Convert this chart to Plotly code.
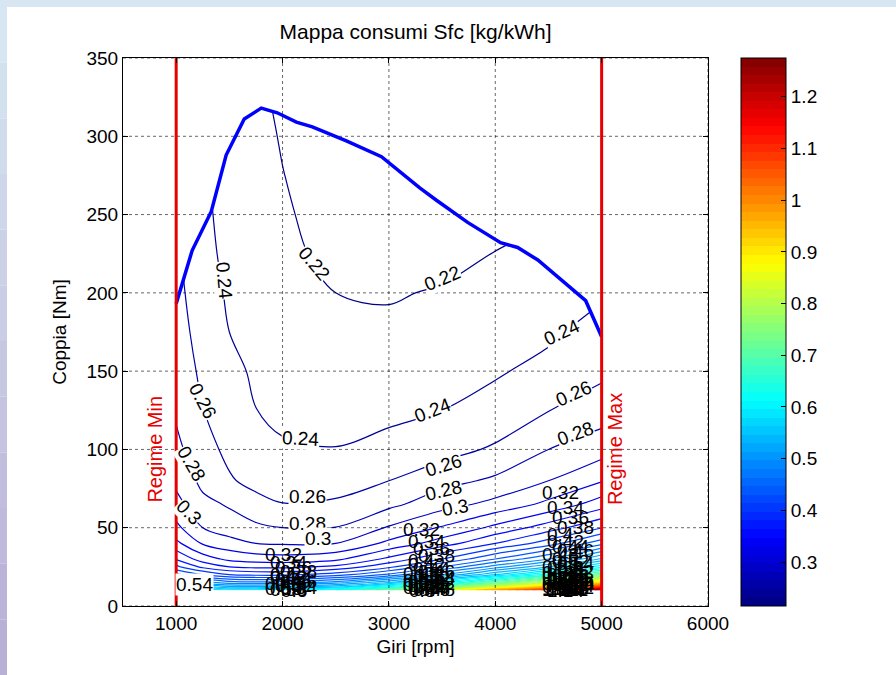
import plotly.graph_objects as go

# ---------------- data ----------------
rpm = [1000, 1250, 1500, 1750, 2000, 2500, 3000, 3500, 4000, 4500, 5000]
torque = [10, 12, 15, 20, 25, 30, 40, 50, 65, 80, 100, 125, 150, 175, 200, 225, 250, 275, 300, 325, 350]

# Sfc [kg/kWh] per rpm column, listed bottom (10 Nm) to top (350 Nm)
sfc_1000 = [0.62, 0.57, 0.51, 0.445, 0.405, 0.378, 0.345, 0.325, 0.307, 0.295, 0.285, 0.277, 0.272, 0.268, 0.265, 0.263, 0.261, 0.260, 0.259, 0.258, 0.257]
sfc_1250 = [0.60, 0.55, 0.49, 0.42, 0.375, 0.35, 0.318, 0.300, 0.285, 0.275, 0.267, 0.2605, 0.256, 0.2525, 0.250, 0.247, 0.245, 0.243, 0.242, 0.241, 0.240]
sfc_1500 = [0.59, 0.53, 0.47, 0.40, 0.36, 0.335, 0.308, 0.289, 0.278, 0.262, 0.2555, 0.249, 0.2435, 0.240, 0.237, 0.234, 0.232, 0.231, 0.230, 0.230, 0.230]
sfc_1750 = [0.59, 0.53, 0.465, 0.395, 0.355, 0.33, 0.300, 0.284, 0.266, 0.2545, 0.245, 0.2402, 0.238, 0.236, 0.2335, 0.231, 0.2285, 0.2275, 0.226, 0.224, 0.223]
sfc_2000 = [0.60, 0.535, 0.47, 0.395, 0.355, 0.328, 0.298, 0.280, 0.2605, 0.2515, 0.2425, 0.235, 0.231, 0.2285, 0.2265, 0.2245, 0.2225, 0.2205, 0.2185, 0.2165, 0.215]
sfc_2500 = [0.64, 0.56, 0.49, 0.41, 0.365, 0.335, 0.300, 0.2805, 0.2625, 0.2525, 0.2405, 0.2335, 0.228, 0.2235, 0.220, 0.215, 0.212, 0.209, 0.207, 0.206, 0.205]
sfc_3000 = [0.72, 0.63, 0.54, 0.445, 0.395, 0.365, 0.325, 0.302, 0.275, 0.260, 0.245, 0.236, 0.229, 0.2235, 0.2185, 0.211, 0.207, 0.206, 0.207, 0.209, 0.212]
sfc_3500 = [0.83, 0.72, 0.61, 0.50, 0.44, 0.40, 0.35, 0.322, 0.292, 0.2735, 0.252, 0.240, 0.2335, 0.227, 0.2215, 0.2145, 0.209, 0.207, 0.208, 0.211, 0.215]
sfc_4000 = [0.97, 0.83, 0.70, 0.56, 0.49, 0.44, 0.38, 0.345, 0.306, 0.2835, 0.263, 0.245, 0.2385, 0.2325, 0.2265, 0.2205, 0.213, 0.210, 0.211, 0.215, 0.220]
sfc_4500 = [1.10, 0.95, 0.80, 0.63, 0.54, 0.48, 0.41, 0.37, 0.325, 0.300, 0.280, 0.2595, 0.244, 0.2375, 0.231, 0.2245, 0.219, 0.218, 0.220, 0.224, 0.228]
sfc_5000 = [1.26, 1.08, 0.90, 0.722, 0.614, 0.543, 0.453, 0.399, 0.350, 0.3185, 0.2916, 0.270, 0.2557, 0.2455, 0.238, 0.234, 0.232, 0.232, 0.233, 0.235, 0.238]

# full-load torque curve
full_rpm = [1000, 1150, 1330, 1470, 1640, 1800, 1950, 2130, 2280, 2600, 2930, 3290, 3450, 3740, 4050, 4210, 4400, 4610, 4850, 5000]
full_torque = [193, 227, 252, 288, 311, 318, 315, 309, 306, 297, 287, 267, 259, 245, 232, 229, 221, 209, 195, 172]

regime_min = 1000
regime_max = 5000

# contour labels (inline labels of the upper lines)
label_text = ["0.22", "0.22", "0.24", "0.24", "0.24", "0.24", "0.26", "0.26", "0.26", "0.26",
              "0.28", "0.28", "0.28", "0.28", "0.3", "0.3", "0.3", "0.54"]
label_rpm = [2300, 3500, 1453, 2170, 3406, 4620, 1245, 2236, 3509, 4736,
             1142, 2236, 3509, 4755, 1123, 2330, 3623, 1170]
label_torque = [219, 209, 208, 107, 125, 175, 131, 70, 90, 136,
                91, 53, 74, 110, 60, 43, 63, 14]
label_angle = [50, -23, 85, 3, -21, -25, 62, 0, -17, -24,
               60, 0, -13, -20, 45, 0, -10, 0]

# rpm positions of the piled-up label clusters near low load
cluster_rpm = [2080, 3380, 4680]

x_ticks = [1000, 2000, 3000, 4000, 5000, 6000]
y_ticks = [0, 50, 100, 150, 200, 250, 300, 350]
cb_ticks = [0.3, 0.4, 0.5, 0.6, 0.7, 0.8, 0.9, 1.0, 1.1, 1.2]
cb_labels = ["0.3", "0.4", "0.5", "0.6", "0.7", "0.8", "0.9", "1", "1.1", "1.2"]

x_range = [500, 6000]
y_range = [0, 350]
c_range = [0.215, 1.275]
level_start, level_end, level_step = 0.22, 1.26, 0.02

# ---------------- figure ----------------
columns = [sfc_1000, sfc_1250, sfc_1500, sfc_1750, sfc_2000, sfc_2500,
           sfc_3000, sfc_3500, sfc_4000, sfc_4500, sfc_5000]
z = [list(row) for row in zip(*columns)]


def _clip(v):
    return max(0.0, min(1.0, v))


# MATLAB-like 64-step jet colormap
N_STEPS = 64
jet = []
for i in range(N_STEPS):
    u = (i + 0.5) / N_STEPS
    r = _clip(min(4 * u - 1.5, -4 * u + 4.5))
    g = _clip(min(4 * u - 0.5, -4 * u + 3.5))
    b = _clip(min(4 * u + 0.5, -4 * u + 2.5))
    c = f"rgb({int(round(r * 255))},{int(round(g * 255))},{int(round(b * 255))})"
    jet.append([i / N_STEPS, c])
    jet.append([(i + 1) / N_STEPS, c])

FONT = "Liberation Sans, Arial, Helvetica, sans-serif"
FS = 19

fig = go.Figure()

fig.add_trace(go.Contour(
    x=rpm, y=torque, z=z,
    colorscale=jet, showscale=False,
    contours=dict(start=level_start, end=level_end, size=level_step, coloring="lines",
                  showlabels=False),
    line=dict(width=1.2),
    hoverinfo="skip",
))

# white mask above the full-load curve
fig.add_trace(go.Scatter(
    x=full_rpm + [regime_max, regime_min],
    y=full_torque + [y_range[1], y_range[1]],
    fill="toself", fillcolor="white", mode="lines", line=dict(width=0),
    hoverinfo="skip", showlegend=False,
))

# dotted grid
gx, gy = [], []
for v in x_ticks:
    gx += [v, v, None]
    gy += [y_range[0], y_range[1], None]
for v in y_ticks:
    gx += [x_range[0], x_range[1], None]
    gy += [v, v, None]
fig.add_trace(go.Scatter(x=gx, y=gy, mode="lines",
                         line=dict(color="rgba(0,0,0,0.6)", width=1, dash="dot"),
                         hoverinfo="skip", showlegend=False))

# full-load curve
fig.add_trace(go.Scatter(x=full_rpm, y=full_torque, mode="lines",
                         line=dict(color="rgb(0,0,255)", width=3.5),
                         hoverinfo="skip", showlegend=False))

# regime lines
fig.add_trace(go.Scatter(
    x=[regime_min, regime_min, None, regime_max, regime_max],
    y=[y_range[0], y_range[1], None, y_range[0], y_range[1]],
    mode="lines", line=dict(color="rgb(230,0,0)", width=3),
    hoverinfo="skip", showlegend=False))

# colorbar carrier
fig.add_trace(go.Scatter(
    x=[None], y=[None], mode="markers", showlegend=False, hoverinfo="skip",
    marker=dict(color=[c_range[0]], cmin=c_range[0], cmax=c_range[1], colorscale=jet,
                showscale=True,
                colorbar=dict(x=(741 - 123) / 585, xanchor="left", xpad=0,
                              y=0.5, yanchor="middle", len=1, ypad=0,
                              thickness=45, outlinewidth=1, outlinecolor="black",
                              tickvals=cb_ticks, ticktext=cb_labels,
                              ticks="inside", ticklen=5, tickcolor="black",
                              tickfont=dict(size=FS, color="black", family=FONT))),
))

# inline contour labels (white background breaks the line like clabel)
for t, xr, yt, a in zip(label_text, label_rpm, label_torque, label_angle):
    fig.add_annotation(x=xr, y=yt, text=t, textangle=a, showarrow=False,
                       bgcolor="white", borderpad=0,
                       font=dict(size=FS, color="black", family=FONT))


# piled-up labels of the dense low-load lines
def column_at(r):
    for j in range(len(rpm) - 1):
        if rpm[j] <= r <= rpm[j + 1]:
            w = (r - rpm[j]) / (rpm[j + 1] - rpm[j])
            return [columns[j][i] * (1 - w) + columns[j + 1][i] * w for i in range(len(torque))]
    return columns[-1]


def torque_of(col, level):
    for i in range(len(torque) - 1):
        a, b = col[i], col[i + 1]
        if (a - level) * (b - level) <= 0 and a != b:
            return torque[i] + (level - a) / (b - a) * (torque[i + 1] - torque[i])
    return None


n_levels = int(round((level_end - level_start) / level_step)) + 1
levels = [round(level_start + k * level_step, 2) for k in range(n_levels)]
for cr in cluster_rpm:
    col = column_at(cr)
    k = 0
    for lv in levels:
        if lv < 0.32:
            continue
        tq = torque_of(col, lv)
        if tq is None:
            continue
        fig.add_annotation(x=cr, y=tq, text=f"{lv:g}", showarrow=False,
                           xshift=((k % 4) - 1.5) * 5,
                           font=dict(size=FS, color="black", family=FONT))
        k += 1

fig.add_annotation(x=regime_min, y=100, xshift=-21, text="Regime Min", textangle=-90,
                   showarrow=False, font=dict(size=20, color="rgb(230,0,0)", family=FONT))
fig.add_annotation(x=regime_max, y=100, xshift=14, text="Regime Max", textangle=-90,
                   showarrow=False, font=dict(size=20, color="rgb(230,0,0)", family=FONT))

# slide-frame decoration
shapes = [dict(type="rect", xref="paper", yref="paper", x0=-123 / 585, x1=773 / 585,
               y0=1 + 51 / 548, y1=1 + 58 / 548, fillcolor="rgb(216,230,244)", line=dict(width=0),
               layer="below")]
n = 12
for i in range(n):
    t = i / (n - 1)
    r = int(214 + (186 - 214) * t)
    g = int(230 + (176 - 230) * t)
    b = int(242 + (214 - 242) * t)
    y1 = 1 + 51 / 548 - i * (51 + 548 + 69) / 548 / n
    y0 = y1 - (51 + 548 + 69) / 548 / n
    shapes.append(dict(type="rect", xref="paper", yref="paper", x0=-123 / 585, x1=-116 / 585,
                       y0=y0, y1=y1, fillcolor=f"rgb({r},{g},{b})", line=dict(width=0),
                       layer="below"))

axis_common = dict(showline=True, linecolor="black", linewidth=1, mirror="ticks",
                   ticks="inside", ticklen=5, tickcolor="black", showgrid=False,
                   zeroline=False, tickfont=dict(size=FS, color="black", family=FONT))

fig.update_layout(
    width=896, height=675,
    margin=dict(l=123, r=188, t=58, b=69, autoexpand=False),
    paper_bgcolor="white", plot_bgcolor="white",
    showlegend=False,
    shapes=shapes,
    font=dict(family=FONT, color="black"),
    title=dict(text="Mappa consumi Sfc [kg/kWh]", x=0.5, xref="paper",
               y=1 - 32 / 675, yref="container", yanchor="middle",
               font=dict(size=21, color="black", family=FONT)),
    xaxis=dict(range=x_range, tickvals=x_ticks, **axis_common,
               title=dict(text="Giri [rpm]", font=dict(size=FS, color="black", family=FONT), standoff=6)),
    yaxis=dict(range=y_range, tickvals=y_ticks, **axis_common,
               title=dict(text="Coppia [Nm]", font=dict(size=FS, color="black", family=FONT), standoff=14)),
)

fig.write_html("out.html", config={"displayModeBar": False},
               post_script="document.body.style.margin='0px';")
